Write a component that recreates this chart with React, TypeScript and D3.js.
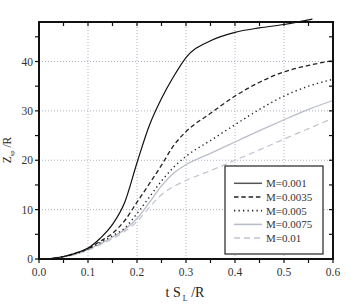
import React, { useEffect, useRef } from 'react';
import * as d3 from 'd3';

// sampling times (t S_L / R)
const tValues = [0, 0.025, 0.05, 0.075, 0.1, 0.125, 0.15, 0.175, 0.2, 0.225, 0.25, 0.275, 0.3, 0.35, 0.4, 0.45, 0.5, 0.55, 0.6];
const tBlack = [0, 0.025, 0.05, 0.075, 0.1, 0.125, 0.15, 0.175, 0.2, 0.225, 0.25, 0.275, 0.3, 0.35, 0.4, 0.45, 0.5, 0.558];

const m001 = [0, 0.1, 0.5, 1.2, 2.2, 4.2, 7.0, 11.5, 19.5, 27, 32.5, 37, 40.8, 44.2, 45.9, 46.8, 47.5, 48.6];
const m0035 = [0, 0.1, 0.5, 1.2, 2.1, 3.6, 5.2, 7.8, 11.5, 15.2, 19, 23, 25.8, 29.5, 33, 35.8, 37.9, 39.2, 40.2];
const m005 = [0, 0.1, 0.5, 1.1, 2.0, 3.3, 4.7, 6.3, 9.2, 12.5, 15.8, 18.6, 20.8, 24, 27.2, 30.3, 33, 35, 36.4];
const m0075 = [0, 0.1, 0.45, 1.0, 1.9, 3.1, 4.4, 6.0, 8.2, 11.4, 14.8, 17.4, 19.1, 21.4, 23.7, 26, 28.2, 30.3, 32.1];
const m01 = [0, 0.1, 0.4, 0.95, 1.8, 2.9, 4.1, 5.6, 7.6, 10.4, 13, 14.7, 15.9, 17.9, 20, 22.1, 24.3, 26.4, 28.5];

const legendLabels = ['M=0.001', 'M=0.0035', 'M=0.005', 'M=0.0075', 'M=0.01'];
const xTicks = [0, 0.1, 0.2, 0.3, 0.4, 0.5, 0.6];
const yTicks = [0, 10, 20, 30, 40];

const FONT = '"Liberation Serif", "DejaVu Serif", serif';

const App = () => {
  const ref = useRef<SVGSVGElement>(null);

  useEffect(() => {
    const width = 357;
    const height = 306;
    const m = { left: 39, right: 24, top: 22, bottom: 47 };

    const svg = d3.select(ref.current).attr('width', width).attr('height', height);
    svg.selectAll('*').remove();

    const x = d3.scaleLinear().domain([0, 0.6]).range([m.left, width - m.right]);
    const y = d3.scaleLinear().domain([0, 48]).range([height - m.bottom, m.top]);

    const series = [
      { label: legendLabels[0], t: tBlack, v: m001, color: '#111', dash: null, w: 1.2 },
      { label: legendLabels[1], t: tValues, v: m0035, color: '#222', dash: '4.5,2.8', w: 1.3 },
      { label: legendLabels[2], t: tValues, v: m005, color: '#222', dash: '1.3,3.2', w: 1.4 },
      { label: legendLabels[3], t: tValues, v: m0075, color: '#b9bdc9', dash: null, w: 1.3 },
      { label: legendLabels[4], t: tValues, v: m01, color: '#bfc3cf', dash: '6,4', w: 1.2 },
    ];

    // grid
    const grid = svg.append('g')
      .attr('stroke', '#aeb2c0').attr('stroke-width', 1).attr('stroke-dasharray', '1,2');
    xTicks.slice(1, -1).forEach(d => {
      grid.append('line')
        .attr('x1', x(d)).attr('x2', x(d)).attr('y1', y(0)).attr('y2', y(48));
    });
    yTicks.slice(1).forEach(d => {
      grid.append('line')
        .attr('x1', x(0)).attr('x2', x(0.6)).attr('y1', y(d)).attr('y2', y(d));
    });

    // curves
    const line = d3.line<[number, number]>()
      .x(d => x(d[0]))
      .y(d => y(d[1]))
      .curve(d3.curveMonotoneX);

    series.slice().reverse().forEach(s => {
      const pts = s.t.map((t, i) => [t, s.v[i]] as [number, number]);
      const p = svg.append('path')
        .attr('d', line(pts))
        .attr('fill', 'none')
        .attr('stroke', s.color)
        .attr('stroke-width', s.w);
      if (s.dash) p.attr('stroke-dasharray', s.dash);
    });

    // axes
    const minorX = d3.range(0, 0.6001, 0.05);
    const minorY = d3.range(0, 48, 5);
    const ax = svg.append('g').attr('stroke', '#111').attr('stroke-width', 1.2);
    minorX.forEach(d => {
      ax.append('line').attr('x1', x(d)).attr('x2', x(d)).attr('y1', y(0)).attr('y2', y(0) + 4);
      ax.append('line').attr('x1', x(d)).attr('x2', x(d)).attr('y1', y(48)).attr('y2', y(48) + 4);
    });
    minorY.forEach(d => {
      ax.append('line').attr('x1', x(0) - 4).attr('x2', x(0)).attr('y1', y(d)).attr('y2', y(d));
      ax.append('line').attr('x1', x(0.6) - 4).attr('x2', x(0.6)).attr('y1', y(d)).attr('y2', y(d));
    });
    svg.append('rect')
      .attr('x', x(0)).attr('y', y(48))
      .attr('width', x(0.6) - x(0)).attr('height', y(0) - y(48))
      .attr('fill', 'none').attr('stroke', '#111').attr('stroke-width', 2);

    svg.append('g').selectAll('text').data(xTicks).enter().append('text')
      .attr('x', d => x(d)).attr('y', y(0) + 17)
      .attr('text-anchor', 'middle')
      .attr('font-family', FONT).attr('font-size', 11.5).attr('fill', '#333')
      .text(d => d.toFixed(1));

    svg.append('g').selectAll('text').data(yTicks).enter().append('text')
      .attr('x', x(0) - 6).attr('y', d => y(d) + 4)
      .attr('text-anchor', 'end')
      .attr('font-family', FONT).attr('font-size', 11.5).attr('fill', '#333')
      .text(d => d);

    // axis titles
    const xt = svg.append('text')
      .attr('x', 185).attr('y', 297)
      .attr('text-anchor', 'middle')
      .attr('font-family', FONT).attr('font-size', 14).attr('fill', '#222');
    xt.append('tspan').text('t S');
    xt.append('tspan').attr('dy', 4).attr('font-size', 8).text(' L');
    xt.append('tspan').attr('dy', -4).text(' /R');

    const yt = svg.append('text')
      .attr('transform', 'translate(11,150) rotate(-90)')
      .attr('text-anchor', 'middle')
      .attr('font-family', FONT).attr('font-size', 11.5).attr('fill', '#222');
    yt.append('tspan').text('Z');
    yt.append('tspan').attr('dy', 3).attr('font-size', 6.5).text('sp');
    yt.append('tspan').attr('dy', -3).text(' /R');

    // legend
    const lg = svg.append('g');
    lg.append('rect')
      .attr('x', 225).attr('y', 166).attr('width', 98).attr('height', 88)
      .attr('fill', '#fff').attr('stroke', '#222').attr('stroke-width', 1.2);
    series.forEach((s, i) => {
      const cy = 183.3 + i * 13.7;
      const l = lg.append('line')
        .attr('x1', 234).attr('x2', 262).attr('y1', cy).attr('y2', cy)
        .attr('stroke', s.color === '#111' ? '#555' : s.color).attr('stroke-width', s.w + 0.3);
      if (s.dash) l.attr('stroke-dasharray', s.dash);
      lg.append('text')
        .attr('x', 266).attr('y', cy + 4)
        .attr('font-family', FONT).attr('font-size', 11).attr('fill', '#333')
        .text(s.label);
    });
  }, []);

  return (
    <svg ref={ref} style={{ position: 'absolute', left: 0, top: 0, background: '#fff' }}></svg>
  );
};

export default App;
